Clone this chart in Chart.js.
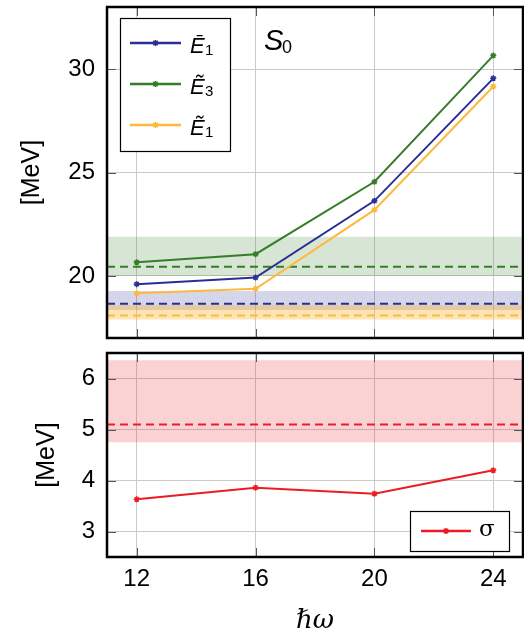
<!DOCTYPE html>
<html>
<head>
<meta charset="utf-8">
<script src="https://cdn.jsdelivr.net/npm/chart.js@4.4.1/dist/chart.umd.min.js"></script>
<style>
  html, body { margin: 0; padding: 0; background: #fff; }
  #wrap { position: relative; width: 524px; height: 634px; }
  #topChart { position: absolute; left: 0; top: 0; }
  #bottomChart { position: absolute; left: 0; top: 345px; }
</style>
</head>
<body>
<div id="wrap">
  <canvas id="topChart" width="524" height="345"></canvas>
  <canvas id="bottomChart" width="524" height="289"></canvas>
</div>
<script>
// x: hbar omega
const hw = [12, 16, 20, 24];
// top panel series
const e1Bar = [19.60, 19.92, 23.63, 29.55];
const e3Tilde = [20.66, 21.05, 24.55, 30.65];
const e1Tilde = [19.16, 19.38, 23.19, 29.16];
// bottom panel series
const sigma = [3.63, 3.86, 3.74, 4.20];
// reference bands: [low, central, high]
const e1BarRef = [18.35, 18.66, 19.27];
const e3TildeRef = [20.00, 20.45, 21.89];
const e1TildeRef = [17.90, 18.09, 18.59];
const sigmaRef = [4.75, 5.10, 6.36];
// axes
const xRange = [11, 25];
const topRange = [17, 33];
const bottomRange = [2.5, 6.5];
const xTicks = [12, 16, 20, 24];
const topTicks = [20, 25, 30];
const bottomTicks = [3, 4, 5, 6];

const blue = 'rgb(43,47,145)';
const green = 'rgb(53,125,40)';
const orange = 'rgb(253,185,60)';
const red = 'rgb(237,28,36)';

const tickFont = { family: '"Liberation Sans", "DejaVu Sans", sans-serif', size: 24 };
const gridColor = '#cbcbcb';

function series(values, color) {
  return {
    data: hw.map((x, i) => ({ x: x, y: values[i] })),
    borderColor: color,
    backgroundColor: color,
    borderWidth: 2,
    pointStyle: 'star',
    pointRadius: 3,
    pointBorderWidth: 1.5,
    fill: false,
    order: 1
  };
}
function band(ref, color) {
  return {
    data: xRange.map(x => ({ x: x, y: ref[2] })),
    borderColor: 'rgba(0,0,0,0)',
    borderWidth: 1,
    pointRadius: 0,
    backgroundColor: color,
    fill: { value: ref[0] },
    order: 3
  };
}
function central(ref, color) {
  return {
    data: xRange.map(x => ({ x: x, y: ref[1] })),
    borderColor: color,
    borderWidth: 2,
    borderDash: [8, 5],
    pointRadius: 0,
    fill: false,
    order: 2
  };
}

function setTicks(list) {
  return s => { s.ticks = list.map(v => ({ value: v })); };
}
// fixed axis size, no extra room for overhanging labels
function fixSize(prop, v) {
  return s => {
    s[prop] = v;
    s.paddingTop = 0; s.paddingBottom = 0; s.paddingLeft = 0; s.paddingRight = 0;
  };
}

// black box + small tick marks
const frame = {
  id: 'frame',
  afterDraw(chart) {
    const { ctx, chartArea: a, scales } = chart;
    ctx.save();
    ctx.strokeStyle = '#555';
    ctx.lineWidth = 1;
    ctx.beginPath();
    scales.y.ticks.forEach(t => {
      const y = Math.round(scales.y.getPixelForValue(t.value)) + 0.5;
      ctx.moveTo(a.left, y); ctx.lineTo(a.left + 9, y);
      ctx.moveTo(a.right, y); ctx.lineTo(a.right - 9, y);
    });
    scales.x.ticks.forEach(t => {
      const x = Math.round(scales.x.getPixelForValue(t.value)) + 0.5;
      ctx.moveTo(x, a.top); ctx.lineTo(x, a.top + 9);
      ctx.moveTo(x, a.bottom); ctx.lineTo(x, a.bottom - 9);
    });
    ctx.stroke();
    ctx.strokeStyle = '#000';
    ctx.lineWidth = 2.5;
    ctx.strokeRect(a.left, a.top, a.right - a.left, a.bottom - a.top);
    ctx.restore();
  }
};

function sample(ctx, x0, x1, y, color) {
  ctx.strokeStyle = color;
  ctx.lineWidth = 2.5;
  ctx.beginPath(); ctx.moveTo(x0, y); ctx.lineTo(x1, y); ctx.stroke();
  const m = (x0 + x1) / 2;
  ctx.lineWidth = 1.5;
  ctx.beginPath();
  ctx.moveTo(m - 3, y); ctx.lineTo(m + 3, y);
  ctx.moveTo(m, y - 3); ctx.lineTo(m, y + 3);
  ctx.moveTo(m - 2.2, y - 2.2); ctx.lineTo(m + 2.2, y + 2.2);
  ctx.moveTo(m - 2.2, y + 2.2); ctx.lineTo(m + 2.2, y - 2.2);
  ctx.stroke();
}

const topLegend = {
  id: 'topLegend',
  afterDraw(chart) {
    const ctx = chart.ctx;
    ctx.save();
    ctx.fillStyle = '#fff';
    ctx.fillRect(120, 18, 111, 134);
    ctx.strokeStyle = '#000';
    ctx.lineWidth = 1.2;
    ctx.strokeRect(120.5, 18.5, 110, 133);
    const rows = [
      { c: blue, t: 'E\u0304', s: '1' },
      { c: green, t: 'E\u0303', s: '3' },
      { c: orange, t: 'E\u0303', s: '1' }
    ];
    rows.forEach((r, i) => {
      const y = 43 + i * 41;
      sample(ctx, 130, 181, y, r.c);
      ctx.fillStyle = '#000';
      ctx.textBaseline = 'alphabetic';
      ctx.font = 'italic 22px "Liberation Sans", "DejaVu Sans", sans-serif';
      ctx.fillText(r.t, 190, y + 10);
      ctx.font = '15px "Liberation Sans", "DejaVu Sans", sans-serif';
      ctx.fillText(r.s, 205, y + 12);
    });
    ctx.font = 'italic 29px "Liberation Sans", "DejaVu Sans", sans-serif';
    ctx.fillText('S', 264, 50);
    ctx.font = '18px "Liberation Sans", "DejaVu Sans", sans-serif';
    ctx.fillText('0', 282, 53);
    ctx.restore();
  }
};

const bottomLegend = {
  id: 'bottomLegend',
  afterDraw(chart) {
    const ctx = chart.ctx;
    const top = 511 - 345;
    ctx.save();
    ctx.fillStyle = '#fff';
    ctx.fillRect(410, top, 100, 41);
    ctx.strokeStyle = '#000';
    ctx.lineWidth = 1.2;
    ctx.strokeRect(410.5, top + 0.5, 99, 40);
    sample(ctx, 421, 471, top + 20, red);
    ctx.fillStyle = '#000';
    ctx.font = '23px "DejaVu Serif", "Liberation Serif", serif';
    ctx.textBaseline = 'alphabetic';
    ctx.fillText('\u03c3', 479, top + 25);
    ctx.restore();
  }
};

new Chart(document.getElementById('topChart'), {
  type: 'line',
  data: {
    datasets: [
      series(e1Bar, blue),
      series(e3Tilde, green),
      series(e1Tilde, orange),
      central(e1BarRef, blue),
      central(e3TildeRef, green),
      central(e1TildeRef, orange),
      band(e3TildeRef, 'rgba(53,125,40,0.2)'),
      band(e1TildeRef, 'rgba(253,185,60,0.38)'),
      band(e1BarRef, 'rgba(45,50,150,0.2)')
    ]
  },
  options: {
    responsive: false,
    animation: false,
    layout: { autoPadding: false, padding: { top: 7, bottom: 7, left: 0, right: 1 } },
    plugins: { legend: { display: false }, tooltip: { enabled: false } },
    scales: {
      x: {
        type: 'linear', min: xRange[0], max: xRange[1],
        afterBuildTicks: setTicks(xTicks),
        afterFit: fixSize('height', 0),
        grid: { color: gridColor, drawTicks: false },
        border: { display: false },
        ticks: { display: false }
      },
      y: {
        min: topRange[0], max: topRange[1],
        afterBuildTicks: setTicks(topTicks),
        afterFit: fixSize('width', 107),
        grid: { color: gridColor, drawTicks: false },
        border: { display: false },
        ticks: { font: tickFont, color: '#000', padding: 12 },
        title: {
          display: true, text: '[MeV]', color: '#000',
          font: { family: tickFont.family, size: 25, lineHeight: 1.2 },
          padding: { top: 17, bottom: 0 }
        }
      }
    }
  },
  plugins: [frame, topLegend]
});

new Chart(document.getElementById('bottomChart'), {
  type: 'line',
  data: {
    datasets: [
      series(sigma, red),
      central(sigmaRef, red),
      band(sigmaRef, 'rgba(237,28,36,0.2)')
    ]
  },
  options: {
    responsive: false,
    animation: false,
    layout: { autoPadding: false, padding: { top: 8, bottom: 0, left: 0, right: 1 } },
    plugins: { legend: { display: false }, tooltip: { enabled: false } },
    scales: {
      x: {
        type: 'linear', min: xRange[0], max: xRange[1],
        afterBuildTicks: setTicks(xTicks),
        afterFit: fixSize('height', 77),
        grid: { color: gridColor, drawTicks: false },
        border: { display: false },
        ticks: { font: tickFont, color: '#000', padding: 8 },
        title: {
          display: true, text: '\u210f\u03c9', color: '#000',
          font: { family: '"DejaVu Serif", serif', style: 'italic', size: 26, lineHeight: 1 },
          padding: { top: 0, bottom: 0 }
        }
      },
      y: {
        min: bottomRange[0], max: bottomRange[1],
        afterBuildTicks: setTicks(bottomTicks),
        afterFit: fixSize('width', 107),
        grid: { color: gridColor, drawTicks: false },
        border: { display: false },
        ticks: { font: tickFont, color: '#000', padding: 12 },
        title: {
          display: true, text: '[MeV]', color: '#000',
          font: { family: tickFont.family, size: 25, lineHeight: 1.2 },
          padding: { top: 32, bottom: 0 }
        }
      }
    }
  },
  plugins: [frame, bottomLegend]
});
</script>
</body>
</html>
